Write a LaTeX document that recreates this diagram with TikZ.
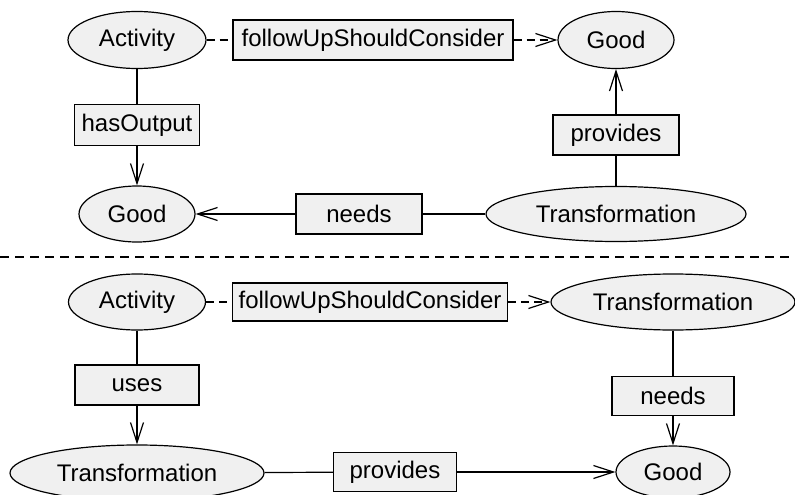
\documentclass[tikz,border=0pt]{standalone}
\usepackage{fontspec}
\setmainfont{Liberation Sans}
\usetikzlibrary{shapes.geometric,arrows.meta}
\definecolor{nodefill}{HTML}{F0F0F0}
\begin{document}
\begin{tikzpicture}[x=1pt,y=-1pt,
  every node/.style={font=\fontsize{24}{28}\selectfont, inner sep=0pt},
  cls/.style={ellipse, draw, line width=1.2pt, fill=nodefill},
  rel/.style={rectangle, draw, line width=1.2pt, fill=nodefill},
  conn/.style={line width=1.2pt},
  dconn/.style={line width=1.2pt, dash pattern=on 8pt off 5pt},
  arr/.style={-{Straight Barb[length=20pt,width=13pt,line width=1.2pt]}}
]
\useasboundingbox (0,0) rectangle (795,495);
% top
\node[cls, minimum width=138, minimum height=57] (a1) at (137,40) {Activity};
\node[rel, minimum width=280, minimum height=40] (f1) at (373,40) {followUpShouldConsider};
\node[cls, minimum width=116, minimum height=57] (g1) at (616,40) {Good};
\node[rel, minimum width=125, minimum height=41] (h1) at (137,125) {hasOutput};
\node[cls, minimum width=116, minimum height=56] (g2) at (137,214) {Good};
\node[rel, minimum width=126, minimum height=40] (n1) at (359,214) {needs};
\node[cls, minimum width=260, minimum height=55] (t1) at (616,214) {Transformation};
\node[rel, minimum width=126, minimum height=40] (p1) at (616,135) {provides};
\draw[dconn] (a1) -- (f1);
\draw[dconn,arr] (f1) -- (g1);
\draw[conn] (a1) -- (h1);
\draw[conn,arr] (h1) -- (g2);
\draw[conn] (t1) -- (n1);
\draw[conn,arr] (n1) -- (g2);
\draw[conn] (t1) -- (p1);
\draw[conn,arr] (p1) -- (g1);
% separator
\coordinate (s1) at (0,257);
\coordinate (s2) at (795,257);
\draw[line width=1.2pt, dash pattern=on 9pt off 6pt] (s1) -- (s2);
% bottom
\node[cls, minimum width=137, minimum height=56] (a2) at (137,302) {Activity};
\node[rel, minimum width=275, minimum height=38] (f2) at (370,302) {followUpShouldConsider};
\node[cls, minimum width=244, minimum height=56] (t2) at (673,302) {Transformation};
\node[rel, minimum width=122, minimum height=39] (n2) at (673,396) {needs};
\node[cls, minimum width=114, minimum height=52] (g3) at (673,472) {Good};
\node[rel, minimum width=124, minimum height=40] (u1) at (137,385) {uses};
\node[cls, minimum width=254, minimum height=56] (t3) at (137,473) {Transformation};
\node[rel, minimum width=123, minimum height=39] (p2) at (395,472) {provides};
\draw[dconn] (a2) -- (f2);
\draw[dconn,arr] (f2) -- (t2);
\draw[conn] (a2) -- (u1);
\draw[conn,arr] (u1) -- (t3);
\draw[conn] (t2) -- (n2);
\draw[conn,arr] (n2) -- (g3);
\draw[conn] (t3) -- (p2);
\draw[conn,arr] (p2) -- (g3);
\end{tikzpicture}
\end{document}
